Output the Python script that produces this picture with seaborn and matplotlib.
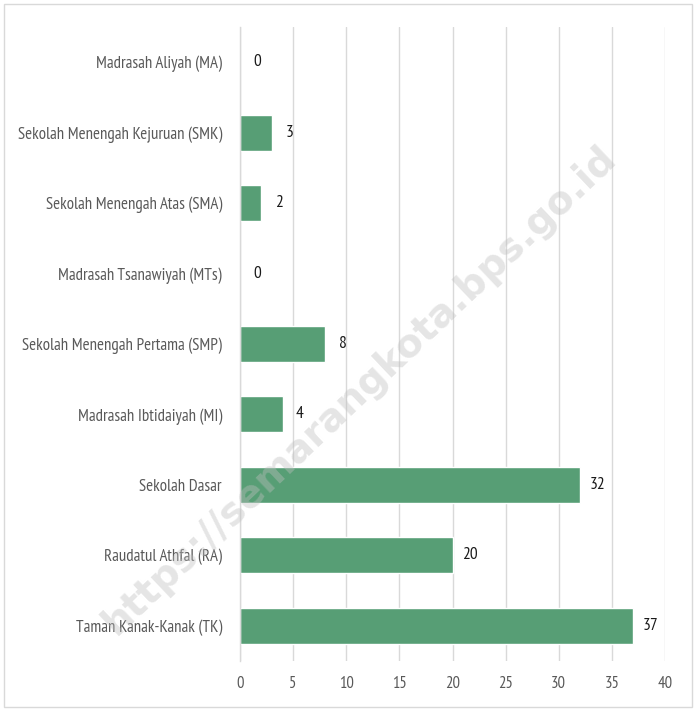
import matplotlib
matplotlib.use("Agg")
import matplotlib.pyplot as plt
import seaborn as sns
import pandas as pd
import numpy as np
from matplotlib import font_manager

categories = [
    "Madrasah Aliyah (MA)",
    "Sekolah Menengah Kejuruan (SMK)",
    "Sekolah Menengah Atas (SMA)",
    "Madrasah Tsanawiyah (MTs)",
    "Sekolah Menengah Pertama (SMP)",
    "Madrasah Ibtidaiyah (MI)",
    "Sekolah Dasar",
    "Raudatul Athfal (RA)",
    "Taman Kanak-Kanak (TK)",
]
values = [0, 3, 2, 0, 8, 4, 32, 20, 37]
xticks = [0, 5, 10, 15, 20, 25, 30, 35, 40]

sns.set_theme(style="white")
names = {f.name for f in font_manager.fontManager.ttflist}
fam = "DejaVu Sans"
for cand in ["PT Sans Narrow", "Roboto Condensed", "Open Sans Condensed",
             "Archivo Narrow", "Barlow Semi Condensed", "Asap Condensed"]:
    if cand in names:
        fam = cand
        break
plt.rcParams['font.family'] = [fam, 'DejaVu Sans']

df = pd.DataFrame({"cat": categories, "val": values})

fig = plt.figure(figsize=(6.96, 7.11), dpi=100)
ax = fig.add_axes([240/696, 1-661/711, (665-240)/696, (661-27)/711])

sns.barplot(data=df, x="val", y="cat", color="#579E75", width=0.51, ax=ax,
            saturation=1, orient="h")

ax.set_xlim(0, 40)
ax.set_ylim(len(categories)-0.5, -0.5)
ax.set_xticks(xticks)
ax.set_xticklabels([str(t) for t in xticks], fontsize=12, color="#595959")
ax.set_yticks(range(len(categories)))
ax.set_yticklabels(categories, fontsize=12.2, color="#595959")
ax.set_xlabel("")
ax.set_ylabel("")
ax.xaxis.grid(True, color="#D9D9D9", linewidth=1)
ax.set_axisbelow(True)
for s in ["top", "right", "bottom"]:
    ax.spines[s].set_visible(False)
ax.spines["left"].set_color("#D9D9D9")
ax.spines["left"].set_linewidth(1)
ax.tick_params(axis="x", length=0, pad=11)
ax.tick_params(axis="y", which="major", length=0, pad=13)
ax.set_yticks(np.arange(-0.5, len(categories), 1), minor=True)
ax.tick_params(axis="y", which="minor", length=4, color="#D9D9D9", width=1, direction="out")

for i, v in enumerate(values):
    ax.text(v + 1.65, i, str(v), va="center", ha="center", fontsize=12.5, color="#1a1a1a")

# watermark
fig.text(0.517, 0.451, "https://semarangkota.bps.go.id", rotation=43.5, fontsize=28,
         fontweight="bold", color="#BFBFBF", alpha=0.4, ha="center", va="center",
         family="DejaVu Sans")

# figure border
fig.patches.append(plt.Rectangle((4/696, 4/711), 688/696, 703/711, transform=fig.transFigure,
                                 fill=False, edgecolor="#D9D9D9", linewidth=1))

fig.savefig("out.png", dpi=100)
